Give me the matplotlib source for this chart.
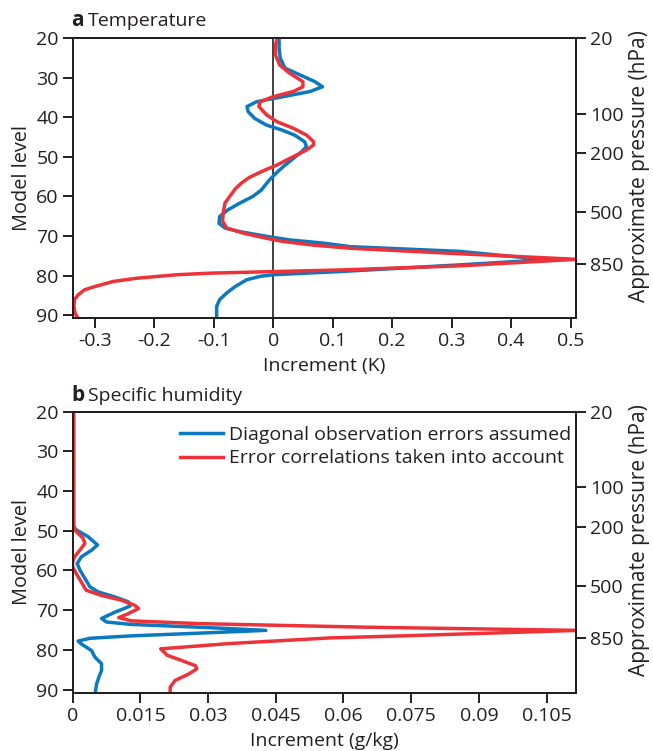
import matplotlib
matplotlib.use("Agg")
import matplotlib.pyplot as plt

plt.rcParams['font.family'] = ['Open Sans', 'DejaVu Sans']

# ---- temperature increments (K) versus model level ----
t_diag_lev = [20.0, 22.6, 25.1, 27.6, 29.3, 31.0, 32.3, 33.5, 34.8, 36.1, 37.3, 38.6,
              40.3, 42.0, 43.2, 44.5, 46.2, 47.4, 48.7, 50.4, 52.1, 53.7, 55.8, 58.4,
              60.0, 61.7, 63.4, 65.1, 66.8, 68.0, 68.9, 70.1, 71.0, 71.8, 72.7, 73.9,
              76.0, 77.3, 79.0, 79.8, 80.2, 81.1, 82.8, 84.4, 86.1, 87.8, 90.8]
t_diag_val = [0.010, 0.010, 0.012, 0.020, 0.045, 0.070, 0.083, 0.062, 0.017, -0.028,
              -0.044, -0.042, -0.031, -0.011, 0.014, 0.036, 0.053, 0.056, 0.048, 0.034,
              0.020, 0.008, -0.006, -0.020, -0.034, -0.056, -0.076, -0.090, -0.091,
              -0.081, -0.056, -0.011, 0.028, 0.084, 0.129, 0.314, 0.459, 0.314, 0.112,
              0.0, -0.022, -0.045, -0.064, -0.078, -0.090, -0.095, -0.095]

t_corr_lev = [20.0, 21.7, 24.3, 26.8, 28.9, 31.0, 32.3, 33.5, 34.8, 36.1, 37.3, 39.4,
              41.1, 42.8, 44.5, 46.2, 47.0, 48.3, 50.4, 52.1, 53.5, 55.2, 56.6, 58.0,
              60.0, 61.7, 64.3, 66.3, 68.0, 69.3, 70.6, 71.4, 72.3, 73.1, 74.5, 75.9,
              77.55, 78.6, 79.0, 79.4, 79.8, 80.7, 81.5, 82.8, 83.6, 84.9, 86.1, 87.8,
              89.5, 90.8]
t_corr_val = [0.007, 0.004, 0.004, 0.011, 0.028, 0.050, 0.050, 0.034, 0.000, -0.022,
              -0.024, -0.011, 0.006, 0.034, 0.056, 0.068, 0.068, 0.056, 0.028, 0.006,
              -0.016, -0.040, -0.053, -0.063, -0.073, -0.081, -0.084, -0.085, -0.078,
              -0.050, -0.011, 0.017, 0.067, 0.129, 0.314, 0.510, 0.314, 0.112, 0.0,
              -0.106, -0.162, -0.230, -0.269, -0.300, -0.317, -0.328, -0.334, -0.335,
              -0.333, -0.328]

# ---- specific humidity increments (g/kg) versus model level ----
q_diag_lev = [20.0, 49.0, 49.8, 51.5, 53.6, 54.9, 56.6, 58.3, 59.9, 62.0, 64.1, 65.4,
              66.7, 67.9, 69.0, 70.5, 72.1, 73.0, 73.6, 74.4, 75.1, 75.8, 76.5, 77.1,
              77.8, 78.5, 80.2, 81.8, 83.5, 85.2, 86.9, 88.6, 90.9]
q_diag_val = [0.0002, 0.0002, 0.0008, 0.0034, 0.0055, 0.0042, 0.0019, 0.0010, 0.0016,
              0.0027, 0.0038, 0.0056, 0.0094, 0.0123, 0.0127, 0.0094, 0.0064, 0.0075,
              0.0130, 0.0300, 0.0428, 0.0280, 0.0127, 0.0038, 0.0012, 0.0019, 0.0042,
              0.0049, 0.0064, 0.0064, 0.0058, 0.0053, 0.0050]

q_corr_lev = [20.0, 48.5, 50.0, 50.7, 51.9, 53.2, 54.9, 56.6, 57.8, 59.1, 60.8, 62.9,
              65.0, 66.3, 67.5, 68.8, 69.6, 70.9, 71.9, 72.7, 73.4, 74.3, 75.1, 76.5,
              77.0, 78.4, 79.75, 81.4, 82.7, 84.0, 84.8, 86.1, 87.7, 89.4, 90.9]
q_corr_val = [0.0002, 0.0002, 0.0006, 0.0012, 0.0023, 0.0027, 0.0016, 0.0004, 0.0000,
              0.0000, 0.0008, 0.0019, 0.0030, 0.0064, 0.0108, 0.0138, 0.0146, 0.0123,
              0.0102, 0.0130, 0.0280, 0.0650, 0.1120, 0.0725, 0.0570, 0.0350, 0.0195,
              0.0210, 0.0242, 0.0272, 0.0275, 0.0257, 0.0227, 0.0216, 0.0216]

series_names = ["Diagonal observation errors assumed",
                "Error correlations taken into account"]

level_ticks = [20, 30, 40, 50, 60, 70, 80, 90]
pressure_pos = [20, 39.1, 49.1, 64.0, 77.0]
pressure_labels = ["20", "100", "200", "500", "850"]

t_ticks = [-0.3, -0.2, -0.1, 0, 0.1, 0.2, 0.3, 0.4, 0.5]
t_ticklabels = ["-0.3", "-0.2", "-0.1", "0", "0.1", "0.2", "0.3", "0.4", "0.5"]
q_ticks = [0, 0.015, 0.03, 0.045, 0.06, 0.075, 0.09, 0.105]
q_ticklabels = ["0", "0.015", "0.03", "0.045", "0.06", "0.075", "0.09", "0.105"]

BLUE = "#0b79c0"
RED = "#ee3239"
INK = "#231f20"
FS = 14
LW = 2.5

fig = plt.figure(figsize=(6.53, 7.51), dpi=100)
ax1 = fig.add_axes([0.1113, 0.5762, 0.7707, 0.3731])
ax2 = fig.add_axes([0.1113, 0.0776, 0.7707, 0.3744])


def frame(ax, xlim, xticks, xticklabels, xlabel, right_label_y):
    ax.set_xlim(*xlim)
    ax.set_ylim(90.8, 20)
    ax.set_xticks(xticks)
    ax.set_xticklabels(xticklabels)
    ax.set_yticks(level_ticks)
    ax.set_ylabel("Model level", fontsize=FS + 0.3, color=INK, labelpad=3)
    ax.set_xlabel(xlabel, fontsize=FS, color=INK, labelpad=5)
    for s in ax.spines.values():
        s.set_linewidth(1.4)
        s.set_color(INK)
    ax.tick_params(direction="out", length=7, width=1.4, labelsize=FS,
                   colors=INK, pad=3)
    tw = ax.twinx()
    tw.set_ylim(ax.get_ylim())
    tw.set_yticks(pressure_pos)
    tw.set_yticklabels(pressure_labels)
    tw.tick_params(direction="out", length=7, width=1.4, labelsize=FS,
                   colors=INK, pad=3)
    for s in tw.spines.values():
        s.set_linewidth(1.4)
        s.set_color(INK)
    tw.set_ylabel("Approximate pressure (hPa)", fontsize=15, color=INK)
    tw.yaxis.set_label_coords(1.106, right_label_y)
    return tw


frame(ax1, (-0.337, 0.509), t_ticks, t_ticklabels, "Increment (K)", 0.545)
ax1.axvline(0, color=INK, lw=1.2, zorder=1)
ax1.plot(t_diag_val, t_diag_lev, color=BLUE, lw=LW, solid_joinstyle="round", zorder=3)
ax1.plot(t_corr_val, t_corr_lev, color=RED, lw=LW, solid_joinstyle="round", zorder=4)

frame(ax2, (0, 0.1115), q_ticks, q_ticklabels, "Increment (g/kg)", 0.543)
l1, = ax2.plot(q_diag_val, q_diag_lev, color=BLUE, lw=LW, solid_joinstyle="round", zorder=3)
l2, = ax2.plot(q_corr_val, q_corr_lev, color=RED, lw=LW, solid_joinstyle="round", zorder=4)
ax2.legend([l1, l2], series_names, loc="upper right", bbox_to_anchor=(0.99, 0.95),
           frameon=False, fontsize=FS, handlelength=2.2, handletextpad=0.3,
           labelspacing=0.3, borderaxespad=0.0, borderpad=0.0, labelcolor=INK)

# panel headings
fig.text(71 / 653, 1 - 26 / 751, "a", fontsize=FS + 1, fontweight="bold", color=INK)
fig.text(88 / 653, 1 - 26 / 751, "Temperature", fontsize=FS, color=INK)
fig.text(71 / 653, 1 - 401 / 751, "b", fontsize=FS + 1, fontweight="bold", color=INK)
fig.text(88 / 653, 1 - 401 / 751, "Specific humidity", fontsize=FS, color=INK)

fig.savefig("out.png", dpi=100)
